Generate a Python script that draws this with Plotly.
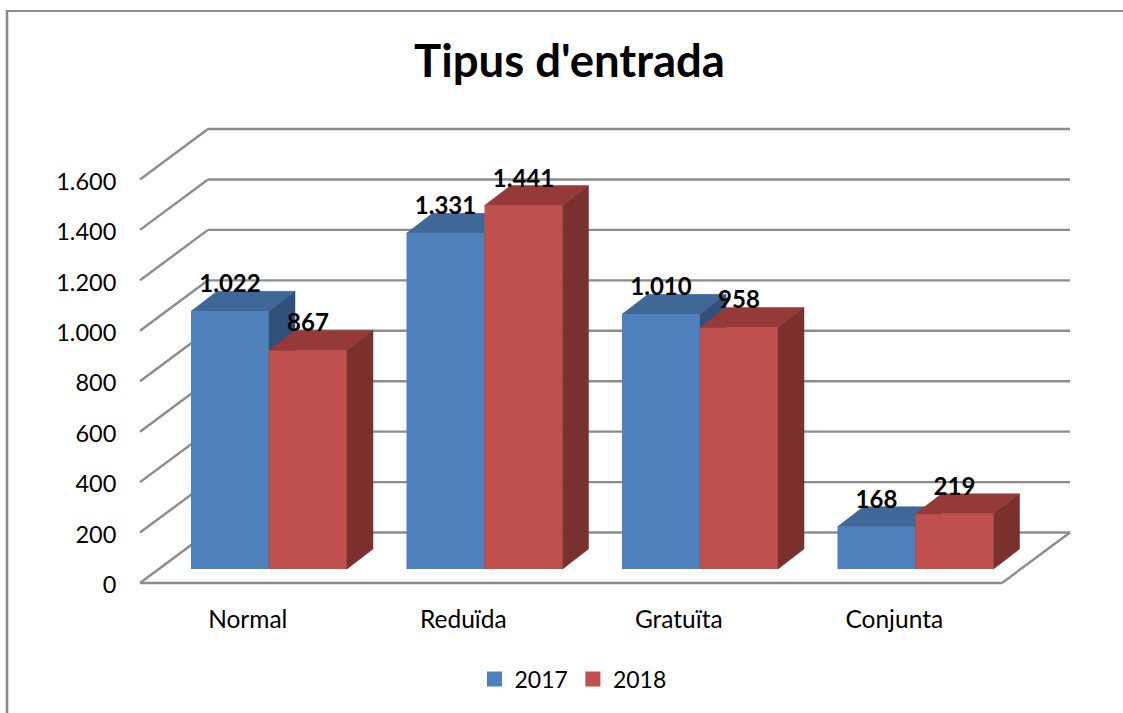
import plotly.graph_objects as go

categories = ["Normal", "Reduïda", "Gratuïta", "Conjunta"]
series_names = ["2017", "2018"]
values_2017 = [1022, 1331, 1010, 168]
values_2018 = [867, 1441, 958, 219]
y_ticks = [0, 200, 400, 600, 800, 1000, 1200, 1400, 1600]

FONT = "Lato, Carlito, Calibri, sans-serif"
W, H = 1123, 713
PAD = 3  # plot area is a little larger than the floor/wall so edge lines are not clipped
LEFT, RIGHT, TOP, BOTTOM = 140 - PAD, 1070 + PAD, 129 - PAD, 583 + PAD
CAT_PX = 215.5
VAL_PX = (583 - 129) / 1800
X_MIN, X_MAX = -PAD / CAT_PX, (1070 - 140 + PAD) / CAT_PX
Y_MIN, Y_MAX = -PAD / VAL_PX, 1800 + PAD / VAL_PX
X_BACK = (1070 - 140) / CAT_PX
WALL_DX = 68 / CAT_PX
WALL_DY = 200
BAR_START = 51 / CAT_PX
BAR_W = 78 / CAT_PX
BAR_DX = 26 / CAT_PX
BAR_DY = 79
BAR_BASE = 55.5
LABEL_LIFT = 99
GRID = "#8c8c8c"

colors = [
    dict(front="#4F81BD", top="#3F6797", side="#31507A"),
    dict(front="#C0504D", top="#953A38", side="#7A302E"),
]


def px_x(p):
    return (p - LEFT) / (RIGHT - LEFT)


def px_y(p):
    return (BOTTOM - p) / (BOTTOM - TOP)


def poly(xs, ys, color, axes):
    return go.Scatter(
        x=xs + xs[:1], y=ys + ys[:1], mode="lines", fill="toself", fillcolor=color,
        line=dict(color=color, width=0.5), hoverinfo="skip", showlegend=False,
        xaxis=axes[0], yaxis=axes[1],
    )


fig = go.Figure()
all_values = [values_2017, values_2018]
axes_pairs = [("x", "y"), ("x2", "y2")]
label_x, label_y, label_t = [], [], []

for s, vals in enumerate(all_values):
    axes = axes_pairs[s]
    c = colors[s]
    lefts = [i + BAR_START + s * BAR_W for i in range(len(categories))]
    fig.add_trace(go.Bar(
        x=lefts, y=vals, base=BAR_BASE, width=BAR_W, offset=0, name=series_names[s],
        marker=dict(color=c["front"], line=dict(width=0)), xaxis=axes[0], yaxis=axes[1],
        showlegend=False, hoverinfo="skip",
    ))
    for x0, v in zip(lefts, vals):
        x1 = x0 + BAR_W
        t = BAR_BASE + v
        fig.add_trace(poly([x0, x1, x1 + BAR_DX, x0 + BAR_DX], [t, t, t + BAR_DY, t + BAR_DY], c["top"], axes))
        fig.add_trace(poly([x1, x1 + BAR_DX, x1 + BAR_DX, x1],
                           [t, t + BAR_DY, BAR_BASE + BAR_DY, BAR_BASE], c["side"], axes))
        label_x.append(x0 + BAR_W / 2)
        label_y.append(t + LABEL_LIFT)
        label_t.append(f"{v:,}".replace(",", "."))
    fig.add_trace(go.Scatter(
        x=[None], y=[None], mode="markers", name=series_names[s],
        marker=dict(symbol="square", size=15, color=c["front"]),
        xaxis=axes[0], yaxis=axes[1], hoverinfo="skip",
    ))

fig.add_trace(go.Scatter(
    x=label_x, y=label_y, text=label_t, mode="text", textposition="middle center",
    textfont=dict(family=FONT, size=24, color="#000000"),
    texttemplate="<b>%{text}</b>", showlegend=False, hoverinfo="skip", xaxis="x2", yaxis="y2",
))

shapes = []
line = dict(color=GRID, width=2.4)
for v in y_ticks:
    shapes.append(dict(type="line", xref="x", yref="y", layer="below", x0=0, y0=v,
                       x1=WALL_DX, y1=v + WALL_DY, line=line))
    shapes.append(dict(type="line", xref="x", yref="y", layer="below", x0=WALL_DX, y0=v + WALL_DY,
                       x1=X_BACK, y1=v + WALL_DY, line=line))
n = len(categories)
shapes.append(dict(type="line", xref="x", yref="y", layer="below", x0=0, y0=0, x1=n, y1=0, line=line))
shapes.append(dict(type="line", xref="x", yref="y", layer="below", x0=n, y0=0, x1=X_BACK, y1=WALL_DY, line=line))
shapes.append(dict(type="line", xref="paper", yref="paper", x0=px_x(6), x1=px_x(1123), y0=px_y(11), y1=px_y(11),
                   line=dict(color=GRID, width=2), layer="below"))
shapes.append(dict(type="line", xref="paper", yref="paper", x0=px_x(7), x1=px_x(7), y0=px_y(10), y1=px_y(713),
                   line=dict(color=GRID, width=2.6), layer="below"))

fig.update_layout(
    width=W, height=H, autosize=False,
    margin=dict(l=LEFT, r=W - RIGHT, t=TOP, b=H - BOTTOM, pad=0),
    paper_bgcolor="white", plot_bgcolor="rgba(0,0,0,0)",
    separators=",.",
    barmode="overlay", showlegend=True, shapes=shapes,
    font=dict(family=FONT, size=23, color="#000000"),
    title=dict(text="<b>Tipus d'entrada</b>", x=569.5 / W, xanchor="center", y=1 - 61 / H, yanchor="middle",
               font=dict(family=FONT, size=45.5, color="#000000")),
    legend=dict(orientation="h", x=px_x(573), xanchor="center", y=px_y(679), yanchor="middle",
                font=dict(family=FONT, size=23), itemsizing="trace", bgcolor="rgba(0,0,0,0)",
                traceorder="normal"),
    xaxis=dict(range=[X_MIN, X_MAX], tickmode="array",
               tickvals=[i + 0.5 for i in range(n)], ticktext=categories,
               tickfont=dict(family=FONT, size=24.5),
               showgrid=False, zeroline=False, showline=False, ticks="outside", ticklen=12,
               tickcolor="rgba(0,0,0,0)", fixedrange=True),
    yaxis=dict(range=[Y_MIN, Y_MAX], tickmode="array", tickvals=y_ticks, tickformat=",d",
               ticklabelshift=2, tickfont=dict(family=FONT, size=23.5),
               showgrid=False, zeroline=False, showline=False, ticks="outside", ticklen=15,
               tickcolor="rgba(0,0,0,0)", fixedrange=True),
    xaxis2=dict(range=[X_MIN, X_MAX], overlaying="x", visible=False, fixedrange=True),
    yaxis2=dict(range=[Y_MIN, Y_MAX], overlaying="y", visible=False, fixedrange=True),
)

fig.write_html("out.html", post_script="document.body.style.margin='0';", config=dict(displayModeBar=False))
